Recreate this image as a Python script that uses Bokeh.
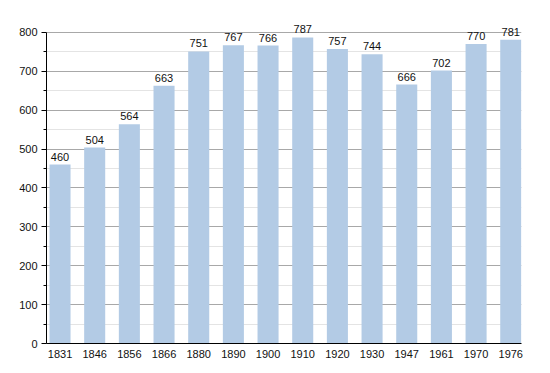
from bokeh.plotting import figure
from bokeh.models import Range1d, FixedTicker, ColumnDataSource, LabelSet
from bokeh.core.properties import value
from bokeh.embed import file_html
from bokeh.resources import INLINE

years = ["1831", "1846", "1856", "1866", "1880", "1890", "1900", "1910",
         "1920", "1930", "1947", "1961", "1970", "1976"]
population = [460, 504, 564, 663, 751, 767, 766, 787, 757, 744, 666, 702, 770, 781]
y_ticks = [0, 100, 200, 300, 400, 500, 600, 700, 800]
y_minor = [50, 150, 250, 350, 450, 550, 650, 750]

idx = list(range(len(years)))
src = ColumnDataSource(dict(x=idx, top=population, label=[str(v) for v in population]))

bar_w = 0.607
p = figure(width=542, height=363, output_backend="svg", toolbar_location=None,
           x_range=Range1d(-0.39, 13.31), y_range=Range1d(0, 828),
           min_border_left=46, min_border_top=21, min_border_right=21, min_border_bottom=20)
p.outline_line_color = None
p.background_fill_color = "white"
p.border_fill_color = "white"

p.vbar(x="x", top="top", width=bar_w, source=src, fill_color="#b3cbe5", line_color=None)

labels = LabelSet(x="x", y="top", text="label", source=src, text_align="center",
                  text_baseline="bottom", y_offset=4, text_font=value("Liberation Sans"),
                  text_font_size="11px", text_color="#111111")
p.add_layout(labels)

# x axis
p.xaxis.ticker = FixedTicker(ticks=idx)
p.xaxis.major_label_overrides = {i: y for i, y in enumerate(years)}
p.xaxis.major_tick_line_color = None
p.xaxis.minor_tick_line_color = None
p.xaxis.axis_line_color = "black"
p.xaxis.axis_line_width = 1
p.xaxis.major_label_standoff = 0
p.xaxis.major_label_text_font = "Liberation Sans"
p.xaxis.major_label_text_font_size = "11px"
p.xaxis.major_label_text_color = "#111111"
p.xgrid.grid_line_color = None

# y axis
p.yaxis.ticker = FixedTicker(ticks=y_ticks, minor_ticks=y_minor)
p.yaxis.bounds = (0, 800)
p.yaxis.axis_line_color = "black"
p.yaxis.major_tick_line_color = "black"
p.yaxis.major_tick_out = 5
p.yaxis.major_tick_in = 0
p.yaxis.minor_tick_line_color = "black"
p.yaxis.minor_tick_out = 3
p.yaxis.minor_tick_in = 0
p.yaxis.major_label_standoff = 4
p.yaxis.major_label_text_font = "Liberation Sans"
p.yaxis.major_label_text_font_size = "11px"
p.yaxis.major_label_text_color = "#111111"
p.ygrid.grid_line_color = "#a8a8a8"
p.ygrid.minor_grid_line_color = "#e4e4e4"

open("out.html", "w").write(file_html(p, INLINE))
